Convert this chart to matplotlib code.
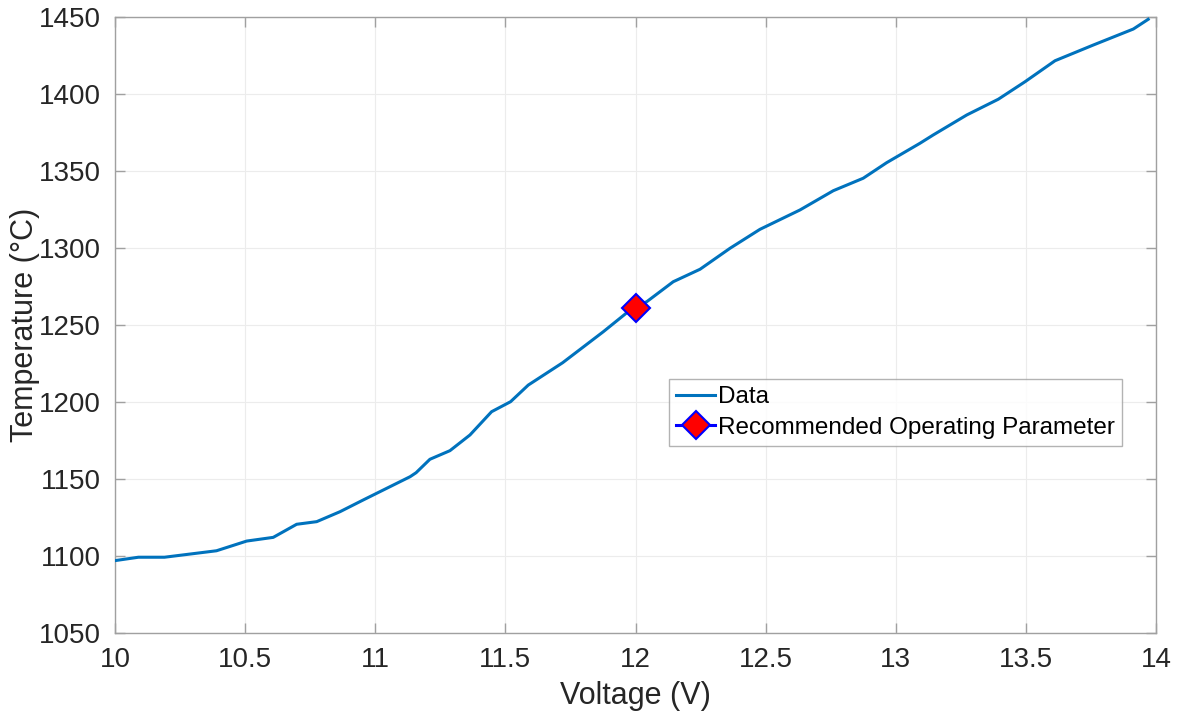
import matplotlib
matplotlib.use("Agg")
import matplotlib.pyplot as plt

voltage = [10.0, 10.09, 10.19, 10.39, 10.506, 10.608, 10.698, 10.775, 10.865, 10.954,
           11.134, 11.157, 11.21, 11.287, 11.364, 11.447, 11.52, 11.588, 11.72, 11.876,
           11.994, 12.043, 12.145, 12.248, 12.363, 12.478, 12.632, 12.76, 12.875, 12.965,
           13.093, 13.144, 13.273, 13.394, 13.497, 13.612, 13.759, 13.913, 13.97]
temperature = [1097.0, 1099.2, 1099.2, 1103.4, 1109.7, 1112.1, 1120.6, 1122.3, 1128.8, 1136.4,
               1151.5, 1154.1, 1162.8, 1168.4, 1178.6, 1193.7, 1200.2, 1211.0, 1225.5, 1245.6,
               1261.7, 1265.1, 1278.1, 1286.2, 1299.8, 1312.1, 1324.7, 1337.2, 1345.3, 1355.4,
               1368.0, 1373.4, 1386.4, 1396.6, 1408.0, 1421.6, 1431.8, 1442.2, 1448.5]
rec_v = [12.0]
rec_t = [1261.0]

xticks = [10, 10.5, 11, 11.5, 12, 12.5, 13, 13.5, 14]
xticklabels = ["10", "10.5", "11", "11.5", "12", "12.5", "13", "13.5", "14"]
yticks = [1050, 1100, 1150, 1200, 1250, 1300, 1350, 1400, 1450]

plt.rcParams['font.family'] = ['Liberation Sans', 'DejaVu Sans']

fig = plt.figure(figsize=(11.81, 7.15), dpi=100)
ax = fig.add_axes([115/1181, 1-633/715, (1156-115)/1181, (633-17)/715])

ax.plot(voltage, temperature, color='#0072BD', lw=2.2, label='Data', zorder=3)
ax.plot(rec_v, rec_t, linestyle='-', color='blue', marker='D', markersize=14,
        markerfacecolor='red', markeredgecolor='blue', markeredgewidth=1.5,
        lw=2.2, label='Recommended Operating Parameter', zorder=4)

ax.set_xlim(10, 14)
ax.set_ylim(1050, 1450)
ax.set_xticks(xticks)
ax.set_xticklabels(xticklabels)
ax.set_yticks(yticks)
ax.grid(True, color='#ececec', lw=0.8)
ax.set_axisbelow(True)
for s in ax.spines.values():
    s.set_color('#a0a0a0')
    s.set_linewidth(1)
ax.tick_params(direction='in', length=7, width=1, color='#a0a0a0', labelsize=20,
               labelcolor='#262626', top=True, right=True)
ax.tick_params(axis='x', pad=10)
ax.tick_params(axis='y', pad=10)
ax.set_xlabel('Voltage (V)', fontsize=22, color='#262626', labelpad=6)
ax.set_ylabel('Temperature (°C)', fontsize=22, color='#262626',
              va='center', rotation_mode='anchor')
ax.yaxis.set_label_coords((25 - 115) / 1041, 0.5)

leg = ax.legend(loc='upper left', bbox_to_anchor=((669-115)/1041, 1-(379-17)/616),
                fontsize=17.5, frameon=True, fancybox=False, borderpad=0.3,
                handlelength=1.6, handletextpad=0.1, labelspacing=0.35, borderaxespad=0)
leg.get_frame().set_edgecolor('#a0a0a0')
leg.get_frame().set_linewidth(1)

fig.savefig('out.png', dpi=100)
